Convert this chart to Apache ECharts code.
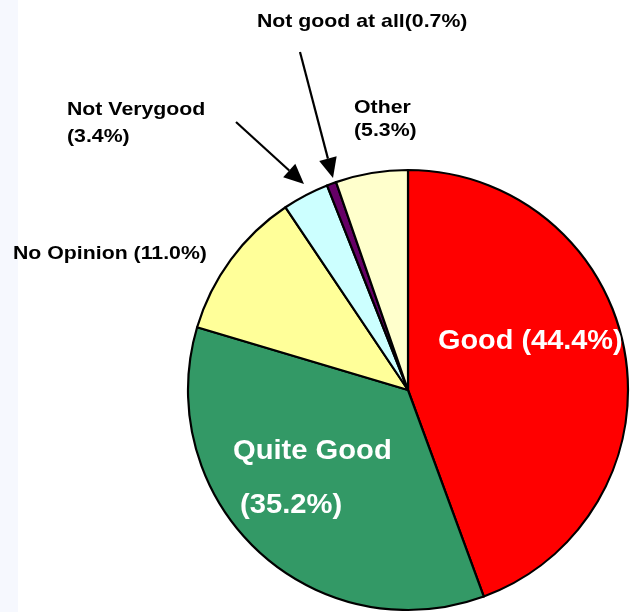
<!DOCTYPE html>
<html>
<head>
<meta charset="utf-8">
<script src="https://cdn.jsdelivr.net/npm/echarts@6/dist/echarts.min.js"></script>
<style>
  html, body { margin: 0; padding: 0; background: #ffffff; }
  #chart { width: 630px; height: 612px; }
</style>
</head>
<body>
<div id="chart"></div>
<script>
// Survey answers, share of respondents (%)
const categories = ['Good', 'Quite Good', 'No Opinion', 'Not Verygood', 'Not good at all', 'Other'];
const shares = [44.4, 35.2, 11.0, 3.4, 0.7, 5.3];
const sliceColors = ['#FF0000', '#339966', '#FFFF99', '#CCFFFF', '#660066', '#FFFFCC'];

const pct = v => '(' + v.toFixed(1) + '%)';

const chart = echarts.init(document.getElementById('chart'), null, { renderer: 'canvas' });

// Label lines: [category index, which part ('name' | 'value' | 'both' | 'joined'), x, y, size, colour, horizontal stretch]
const labelLines = [
  [0, 'both', 438, 342, 27, '#ffffff', 1.07],
  [1, 'name', 233, 452, 27, '#ffffff', 1.08],
  [1, 'value', 240, 506, 27, '#ffffff', 1.08],
  [2, 'both', 13, 254, 19, '#000000', 1.12],
  [3, 'name', 67, 110, 19, '#000000', 1.12],
  [3, 'value', 67, 137, 19, '#000000', 1.12],
  [4, 'joined', 257, 22, 19, '#000000', 1.12],
  [5, 'name', 354, 108, 19, '#000000', 1.12],
  [5, 'value', 354, 131, 19, '#000000', 1.12]
];

function lineText(i, part) {
  const n = categories[i], v = pct(shares[i]);
  if (part === 'name') return n;
  if (part === 'value') return v;
  if (part === 'joined') return n + v;
  return n + ' ' + v;
}

const graphics = [
  // pale strip along the left edge
  { type: 'rect', shape: { x: 0, y: 0, width: 18, height: 612 }, style: { fill: '#F6F8FE' }, z: -1 }
];

labelLines.forEach(([i, part, x, y, size, color, sx]) => {
  graphics.push({
    type: 'text',
    x: x, y: y,
    scaleX: sx,
    style: {
      text: lineText(i, part),
      x: 0, y: 0,
      verticalAlign: 'middle',
      align: 'left',
      font: 'bold ' + size + 'px "Liberation Sans", Arial, sans-serif',
      fill: color
    },
    z: 10
  });
});

// Pointer arrows for the thin slices
function arrow(x1, y1, x2, y2) {
  const len = 20, half = 9;
  const dx = x2 - x1, dy = y2 - y1, d = Math.hypot(dx, dy);
  const ux = dx / d, uy = dy / d;
  const bx = x2 - ux * len, by = y2 - uy * len;
  graphics.push({
    type: 'line',
    shape: { x1: x1, y1: y1, x2: bx, y2: by },
    style: { stroke: '#000', lineWidth: 2.2 },
    z: 10
  });
  graphics.push({
    type: 'polygon',
    shape: { points: [[x2, y2], [bx - uy * half, by + ux * half], [bx + uy * half, by - ux * half]] },
    style: { fill: '#000' },
    z: 10
  });
}
arrow(236, 122, 304, 184);
arrow(300, 52, 333, 178);

chart.setOption({
  animation: false,
  backgroundColor: '#ffffff',
  graphic: graphics,
  series: [{
    type: 'pie',
    center: [408, 390],
    radius: 220,
    startAngle: 90,
    clockwise: true,
    avoidLabelOverlap: false,
    label: { show: false },
    labelLine: { show: false },
    emphasis: { disabled: true },
    itemStyle: { borderColor: '#000000', borderWidth: 2.2 },
    data: categories.map((c, i) => ({
      name: c,
      value: shares[i],
      itemStyle: { color: sliceColors[i] }
    }))
  }]
});
</script>
</body>
</html>
